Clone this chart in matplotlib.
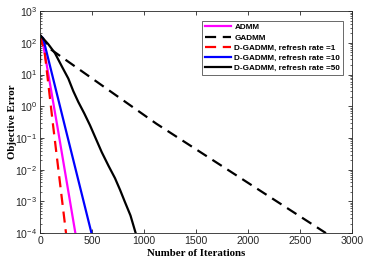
import matplotlib
matplotlib.use("Agg")
import matplotlib.pyplot as plt
from matplotlib.ticker import LogLocator, NullFormatter, FixedLocator

plt.rcParams['font.family'] = ['Liberation Sans', 'DejaVu Sans']
plt.rcParams['mathtext.fontset'] = 'custom'
plt.rcParams['mathtext.rm'] = 'Liberation Sans'
plt.rcParams['mathtext.it'] = 'Liberation Sans:italic'
plt.rcParams['mathtext.bf'] = 'Liberation Sans:bold'

# Data
admm_iter = [0, 20, 167, 340]
admm_err = [170, 140, 0.23, 1e-4]

gadmm_iter = [0, 110, 1120, 2750]
gadmm_err = [170, 60, 0.28, 1e-4]

dg1_iter = [0, 45, 125, 250]
dg1_err = [170, 50, 0.26, 1e-4]

dg10_iter = [0, 30, 240, 495]
dg10_err = [170, 140, 0.23, 1e-4]

dg50_iter = [0, 0, 1, 80, 144, 210, 272, 320, 368, 425, 481, 540, 593, 660, 721, 770, 817, 870, 920]
dg50_err = [25, 170, 175, 90, 47, 18, 7.5, 3.0, 1.37, 0.6, 0.25, 0.09, 0.036, 0.013, 5.4e-3, 2.3e-3, 9.5e-4, 3.6e-4, 1e-4]

labels = ['ADMM', 'GADMM', 'D-GADMM, refresh rate =1',
          'D-GADMM, refresh rate =10', 'D-GADMM, refresh rate =50']
xticks = [0, 500, 1000, 1500, 2000, 2500, 3000]
yticks = [1e-4, 1e-3, 1e-2, 1e-1, 1e0, 1e1, 1e2, 1e3]

fig = plt.figure(figsize=(3.74, 2.64), dpi=100)
ax = fig.add_axes([0.107, 0.117, 0.834, 0.841])

lw = 1.6
ax.plot(admm_iter, admm_err, color='#ff00ff', lw=lw, label=labels[0])
ax.plot(gadmm_iter, gadmm_err, color='black', lw=lw, ls=(0, (5, 3)), label=labels[1])
ax.plot(dg1_iter, dg1_err, color='red', lw=lw, ls=(0, (5, 3)), label=labels[2])
ax.plot(dg10_iter, dg10_err, color='blue', lw=lw, label=labels[3])
ax.plot(dg50_iter, dg50_err, color='black', lw=lw, label=labels[4])

ax.set_yscale('log')
ax.set_xlim(0, 3000)
ax.set_ylim(1e-4, 1e3)
ax.xaxis.set_major_locator(FixedLocator(xticks))
ax.yaxis.set_major_locator(FixedLocator(yticks))
ax.yaxis.set_minor_locator(LogLocator(base=10, subs=range(2, 10), numticks=20))
ax.yaxis.set_minor_formatter(NullFormatter())

ax.tick_params(which='both', direction='in', top=True, right=True,
               labelsize=7.6, colors='#262626', pad=2)
ax.tick_params(which='major', length=3, width=0.6)
ax.tick_params(which='minor', length=1.5, width=0.5)
for s in ax.spines.values():
    s.set_color('#262626')
    s.set_linewidth(0.6)

ax.set_xlabel('Number of Iterations', fontfamily='Liberation Serif',
              fontweight='bold', fontsize=7.8, va='center')
ax.set_ylabel('Objective Error', fontfamily='Liberation Serif',
              fontweight='bold', fontsize=7.8, va='center')
ax.yaxis.set_label_coords(-0.087, 0.5)
ax.xaxis.set_label_coords(0.5, -0.09)

leg = ax.legend(loc='upper right', prop={'weight': 'bold', 'size': 5.9},
                frameon=True, fancybox=False, edgecolor='#262626',
                handlelength=3.2, handletextpad=0.4, labelspacing=0.3,
                borderpad=0.35, bbox_to_anchor=(0.985, 0.975))
leg.get_frame().set_linewidth(0.6)

fig.savefig('out.png', dpi=100)
